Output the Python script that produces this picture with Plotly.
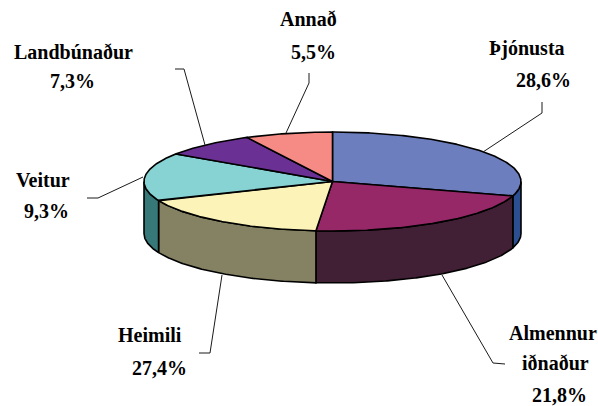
import numpy as np
import plotly.graph_objects as go

categories = ["Þjónusta", "Almennur iðnaður", "Heimili", "Veitur", "Landbúnaður", "Annað"]
slice_shares = [29.7, 21.7, 17.3, 15.7, 8.1, 7.5]
top_colors = ["#6C7EBE", "#962868", "#FCF3B9", "#87D2D3", "#6A3094", "#F58B84"]
side_colors = ["#2B4F90", "#412035", "#848262", "#377878", "#3A1A52", "#85504C"]
label_lines = [["Þjónusta", "28,6%"], ["Almennur", "iðnaður", "21,8%"], ["Heimili", "27,4%"],
               ["Veitur", "9,3%"], ["Landbúnaður", "7,3%"], ["Annað", "5,5%"]]
label_pos = [[(527, 48), (543, 80)], [(553, 333), (555, 363), (559, 395)], [(150, 335), (159, 368)],
             [(43, 180), (46, 211)], [(73, 52), (72, 81)], [(308, 19), (313, 52)]]
leaders = [[(483, 152), (542, 113), (542, 102)], [(442, 275), (493, 363), (505, 364)],
           [(222, 275), (210, 353), (199, 353)], [(143, 177), (98, 198), (87, 198)],
           [(205, 145), (184, 69), (175, 69)], [(286, 133), (309, 83), (309, 73)]]

CX, CY, A, B, DEPTH = 332.5, 181.5, 188.5, 49.5, 52


def arc(t0, t1, dy=0.0):
    n = max(2, int(abs(t1 - t0) * 2) + 2)
    t = np.radians(np.linspace(t0, t1, n))
    return CX + A * np.sin(t), CY - B * np.cos(t) + dy


edges = np.concatenate([[0], np.cumsum(slice_shares)]) / sum(slice_shares) * 360
fig = go.Figure()


def poly(x, y, color, width=1.6):
    fig.add_trace(go.Scatter(x=np.append(x, x[0]), y=np.append(y, y[0]), mode="lines", fill="toself",
                             fillcolor=color, line=dict(color="#000000", width=width),
                             hoverinfo="skip", showlegend=False))


# visible rim (front half of the disc)
for i, c in enumerate(side_colors):
    t0, t1 = max(edges[i], 90), min(edges[i + 1], 270)
    if t1 > t0:
        xt, yt = arc(t0, t1)
        xb, yb = arc(t1, t0, DEPTH)
        poly(np.concatenate([xt, xb]), np.concatenate([yt, yb]), c)

# top faces
for i, c in enumerate(top_colors):
    xt, yt = arc(edges[i], edges[i + 1])
    poly(np.concatenate([[CX], xt]), np.concatenate([[CY], yt]), c)

# leader lines
for pts in leaders:
    fig.add_trace(go.Scatter(x=[p[0] for p in pts], y=[p[1] for p in pts], mode="lines",
                             line=dict(color="#1a1a1a", width=1), hoverinfo="skip", showlegend=False))

annotations = []
for lines, pos in zip(label_lines, label_pos):
    for txt, (x, y) in zip(lines, pos):
        annotations.append(dict(x=x, y=y, text=f"<b>{txt}</b>", showarrow=False, xanchor="center", yanchor="middle",
                                font=dict(family="Liberation Serif", size=20, color="#000000")))

fig.update_layout(width=598, height=406, margin=dict(l=0, r=0, t=0, b=0), paper_bgcolor="white",
                  plot_bgcolor="white", showlegend=False, annotations=annotations,
                  xaxis=dict(range=[0, 598], visible=False, fixedrange=True),
                  yaxis=dict(range=[406, 0], visible=False, fixedrange=True))
fig.write_html("out.html", config=dict(displayModeBar=False),
               post_script="document.body.style.margin='0';document.documentElement.style.overflow='hidden';")
